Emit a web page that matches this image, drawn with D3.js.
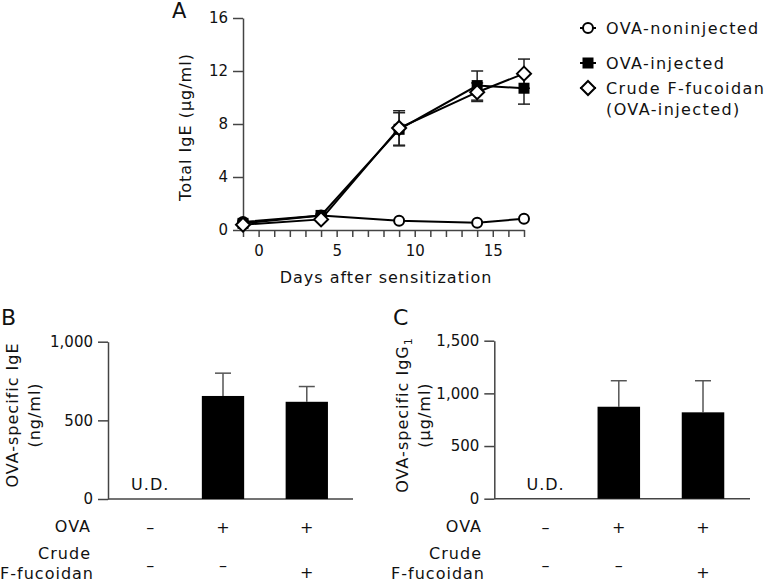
<!DOCTYPE html>
<html><head><meta charset="utf-8">
<script src="https://cdn.jsdelivr.net/npm/d3@7"></script>
<style>
body{margin:0;background:#fff;}
svg text{font-family:"DejaVu Sans",Verdana,sans-serif;fill:#111;}
</style></head>
<body>
<svg id="c" width="764" height="582"></svg>
<script>
// ---------- Data ----------
const days = [-1, 4, 9, 14, 17];
const seriesNames = ["OVA-noninjected", "OVA-injected", "Crude F-fucoidan"];
const nonInjected = [0.6, 1.1, 0.7, 0.55, 0.85];
const nonInjectedErr = [0, 0, 0, 0, 0];
const ovaInjected = [0.5, 1.1, 7.6, 10.9, 10.7];
const ovaInjectedErr = [0, 0, 1.25, 1.1, 1.2];
const fucoidan = [0.4, 0.8, 7.7, 10.4, 11.8];
const fucoidanErr = [0, 0, 1.3, 0.7, 1.1];
const yTicksA = [0, 4, 8, 12, 16];
const xTickLabelsA = [0, 5, 10, 15];

const groups = ["ctrl", "ova", "ova+fuc"];
const ovaSigns = ["\u2013", "+", "+"];
const fucSigns = ["\u2013", "\u2013", "+"];
const igEValues = [null, 655, 618];
const igEErr = [null, 145, 97];
const igG1Values = [null, 873, 820];
const igG1Err = [null, 247, 300];
const yTicksB = [0, 500, 1000];
const yTicksC = [0, 500, 1000, 1500];

// ---------- Drawing ----------
const svg = d3.select("#c");
const axisColor = "#444";
const LS = "1px";

function styleAxis(g){
  g.selectAll("path.domain").attr("stroke", axisColor).attr("stroke-width", 1.5);
  g.selectAll(".tick line").attr("stroke", axisColor).attr("stroke-width", 1.5);
  g.selectAll(".tick text").attr("font-family", "DejaVu Sans").attr("font-size", 15).attr("fill", "#111");
}

// ===== Panel A =====
const xA = d3.scaleLinear().domain([-1, 17]).range([243, 524]);
const yA = d3.scaleLinear().domain([0, 16]).range([230, 18]);

const gAy = svg.append("g").attr("transform", `translate(${xA(-1)},0)`)
  .call(d3.axisLeft(yA).tickValues(yTicksA).tickSize(10).tickSizeOuter(0).tickPadding(5));
styleAxis(gAy);
const gAx = svg.append("g").attr("transform", `translate(0,${yA(0)})`)
  .call(d3.axisBottom(xA).tickValues(d3.range(-1, 18)).tickSize(7).tickSizeOuter(0).tickPadding(8)
    .tickFormat(d => xTickLabelsA.includes(d) ? d : ""));
styleAxis(gAx);

svg.append("text").attr("x", 386).attr("y", 283).attr("text-anchor", "middle")
  .attr("font-size", 16).attr("letter-spacing", LS).text("Days after sensitization");
svg.append("text").attr("transform", "translate(191,127) rotate(-90)").attr("text-anchor", "middle")
  .attr("font-size", 16).attr("letter-spacing", LS).text("Total IgE (\u03bcg/ml)");
svg.append("text").attr("x", 172).attr("y", 18).attr("font-size", 21).text("A");

const line = d3.line().x(d => xA(d.x)).y(d => yA(d.y));
const seriesA = [
  {name: seriesNames[0], vals: nonInjected, err: nonInjectedErr, marker: "circle"},
  {name: seriesNames[1], vals: ovaInjected, err: ovaInjectedErr, marker: "square"},
  {name: seriesNames[2], vals: fucoidan, err: fucoidanErr, marker: "diamond"}
];
// error bars
seriesA.forEach(s => {
  days.forEach((d, i) => {
    if (!s.err[i]) return;
    const x = xA(d), y0 = yA(s.vals[i] - s.err[i]), y1 = yA(s.vals[i] + s.err[i]);
    svg.append("line").attr("x1", x).attr("x2", x).attr("y1", y0).attr("y2", y1).attr("stroke", "#222").attr("stroke-width", 1.5);
    [y0, y1].forEach(yy => svg.append("line").attr("x1", x - 6).attr("x2", x + 6).attr("y1", yy).attr("y2", yy).attr("stroke", "#222").attr("stroke-width", 1.5));
  });
});
seriesA.forEach(s => {
  svg.append("path").datum(days.map((d, i) => ({x: d, y: s.vals[i]})))
    .attr("d", line).attr("fill", "none").attr("stroke", "#000").attr("stroke-width", 2);
});
function drawMarker(type, x, y){
  if (type === "circle") {
    svg.append("circle").attr("cx", x).attr("cy", y).attr("r", 5).attr("fill", "#fff").attr("stroke", "#000").attr("stroke-width", 2);
  } else if (type === "square") {
    svg.append("rect").attr("x", x - 5.5).attr("y", y - 5.5).attr("width", 11).attr("height", 11).attr("fill", "#000");
  } else {
    const r = 7;
    svg.append("path").attr("d", `M${x},${y - r}L${x + r},${y}L${x},${y + r}L${x - r},${y}Z`)
      .attr("fill", "#fff").attr("stroke", "#000").attr("stroke-width", 2);
  }
}
seriesA.forEach(s => days.forEach((d, i) => drawMarker(s.marker, xA(d), yA(s.vals[i]))));

// legend
const legendY = [28, 63, 88];
const legendLabels = [["OVA-noninjected"], ["OVA-injected"], ["Crude F-fucoidan", "(OVA-injected)"]];
seriesA.forEach((s, i) => {
  const y = legendY[i];
  svg.append("line").attr("x1", 580).attr("x2", 596).attr("y1", y).attr("y2", y).attr("stroke", "#000").attr("stroke-width", 2);
  drawMarker(s.marker, 588, y);
  legendLabels[i].forEach((t, j) => {
    svg.append("text").attr("x", 606).attr("y", y + 6 + j * 21).attr("font-size", 16).attr("letter-spacing", "1.4px").text(t);
  });
});

// ===== Bar panels =====
function barPanel(opt){
  const x = d3.scaleBand().domain(groups).range(opt.xr).paddingInner(0.495).paddingOuter(opt.po);
  const y = d3.scaleLinear().domain([0, opt.max]).range(opt.yr);
  const gy = svg.append("g").attr("transform", `translate(${opt.xr[0]},0)`)
    .call(d3.axisLeft(y).tickValues(opt.ticks).tickSize(10).tickSizeOuter(0).tickPadding(5).tickFormat(d3.format(",")));
  styleAxis(gy);
  svg.append("line").attr("x1", opt.xr[0]).attr("x2", opt.axisEnd).attr("y1", y(0)).attr("y2", y(0))
    .attr("stroke", axisColor).attr("stroke-width", 1.5);
  groups.forEach((g, i) => {
    const v = opt.vals[i];
    const cx = x(g) + x.bandwidth() / 2;
    if (v == null) {
      svg.append("text").attr("x", cx + 11).attr("y", y(0) - 9).attr("text-anchor", "middle")
        .attr("font-size", 16).attr("letter-spacing", LS).text("U.D.");
      return;
    }
    const top = y(v + opt.err[i]);
    svg.append("line").attr("x1", cx).attr("x2", cx).attr("y1", y(v)).attr("y2", top).attr("stroke", "#555").attr("stroke-width", 1.5);
    svg.append("line").attr("x1", cx - 8).attr("x2", cx + 8).attr("y1", top).attr("y2", top).attr("stroke", "#555").attr("stroke-width", 1.5);
    svg.append("rect").attr("x", x(g)).attr("y", y(v)).attr("width", x.bandwidth()).attr("height", y(0) - y(v)).attr("fill", "#000");
  });
  // sign rows
  groups.forEach((g, i) => {
    const cx = x(g) + x.bandwidth() / 2 + (i === 0 ? 11 : 0);
    svg.append("text").attr("x", cx).attr("y", 533).attr("text-anchor", "middle").attr("font-size", 16).text(ovaSigns[i]);
    svg.append("text").attr("x", cx).attr("y", fucSigns[i] === "+" ? 578 : 571).attr("text-anchor", "middle").attr("font-size", 16).text(fucSigns[i]);
  });
  const lx = opt.labelX;
  svg.append("text").attr("x", lx).attr("y", 532).attr("text-anchor", "end").attr("font-size", 16).attr("letter-spacing", LS).text("OVA");
  svg.append("text").attr("x", lx).attr("y", 559).attr("text-anchor", "end").attr("font-size", 16).attr("letter-spacing", LS).text("Crude");
  svg.append("text").attr("x", lx + 3).attr("y", 579).attr("text-anchor", "end").attr("font-size", 16).attr("letter-spacing", LS).text("F-fucoidan");
  // y label
  const t = svg.append("text").attr("transform", `translate(${opt.titleX},${opt.titleY}) rotate(-90)`)
    .attr("text-anchor", "middle").attr("font-size", 16).attr("letter-spacing", LS);
  opt.title(t);
  svg.append("text").attr("transform", `translate(${opt.titleX + 22},${opt.titleY}) rotate(-90)`)
    .attr("text-anchor", "middle").attr("font-size", 16).attr("letter-spacing", LS).text(opt.unit);
  svg.append("text").attr("x", opt.letterX).attr("y", 325).attr("font-size", 22).text(opt.letter);
}

barPanel({xr: [108, 338], po: 0.12, axisEnd: 353, yr: [499, 341.7], max: 1000, ticks: yTicksB,
  vals: igEValues, err: igEErr, labelX: 91, titleX: 18, titleY: 415, unit: "(ng/ml)",
  title: t => t.text("OVA-specific IgE"), letter: "B", letterX: 1});
barPanel({xr: [494.3, 743.3], po: 0.226, axisEnd: 750, yr: [498.7, 340.7], max: 1500, ticks: yTicksC,
  vals: igG1Values, err: igG1Err, labelX: 482, titleX: 408, titleY: 415, unit: "(\u03bcg/ml)",
  title: t => { t.append("tspan").text("OVA-specific IgG"); t.append("tspan").attr("font-size", 11).attr("dy", 4).text("1"); },
  letter: "C", letterX: 393});
</script>
</body></html>
